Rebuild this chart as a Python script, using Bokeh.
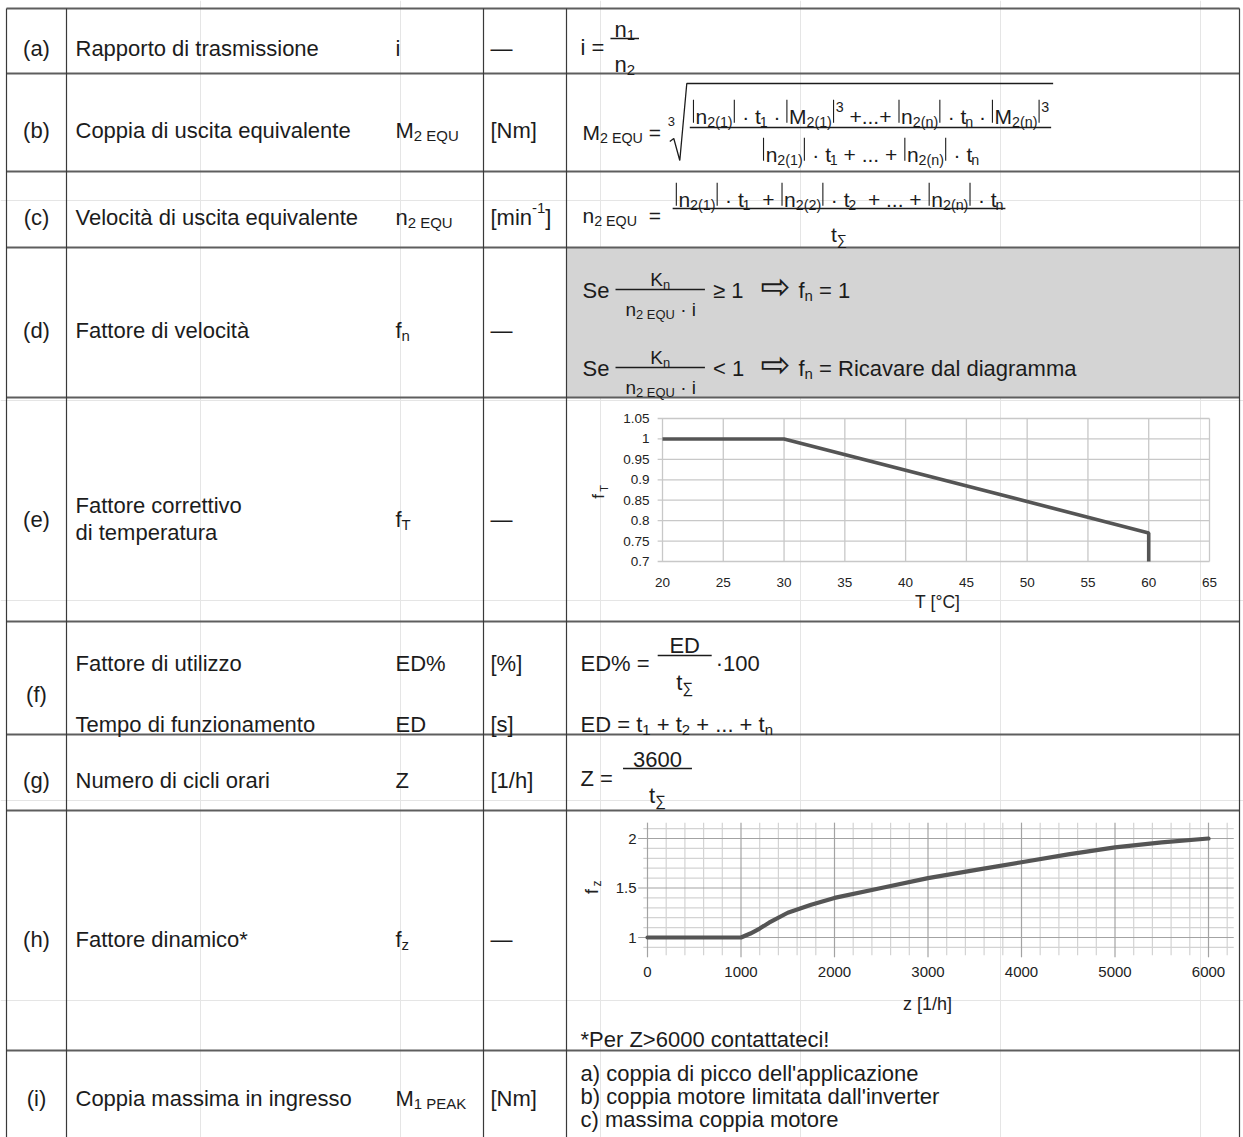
import numpy as np
from bokeh.plotting import figure
from bokeh.models import Range1d
from bokeh.embed import file_html
from bokeh.resources import INLINE
from bokeh.core.properties import value

# ------------------------- chart data -------------------------
temp_C = [20, 30, 60, 60]
f_T = [1.00, 1.00, 0.77, 0.70]
temp_ticks = [20, 25, 30, 35, 40, 45, 50, 55, 60, 65]
fT_ticks = [0.70, 0.75, 0.80, 0.85, 0.90, 0.95, 1.00, 1.05]
fT_labels = ["0.7", "0.75", "0.8", "0.85", "0.9", "0.95", "1", "1.05"]

z_cycles = [0, 1000, 1100, 1200, 1300, 1500, 1750, 2000, 2500, 3000, 3500, 4000, 4500, 5000, 5500, 6000]
f_z = [1.00, 1.00, 1.04, 1.09, 1.15, 1.25, 1.33, 1.40, 1.50, 1.60, 1.68, 1.76, 1.84, 1.91, 1.96, 2.00]
z_ticks = [0, 1000, 2000, 3000, 4000, 5000, 6000]
z_labels = [str(v) for v in z_ticks]
fz_ticks = [1.0, 1.5, 2.0]
fz_labels = ["1", "1.5", "2"]

# ------------------------- figure -------------------------
W_PX, H_PX = 1243, 1137
p = figure(width=W_PX, height=H_PX, x_range=Range1d(0, W_PX), y_range=Range1d(H_PX, 0),
           output_backend="svg", toolbar_location=None, title=None,
           x_axis_location=None, y_axis_location=None, min_border=0,
           outline_line_color=None, background_fill_color="white", border_fill_color="white")


def map_range(d0, px0, d1, px1, lo, hi):
    k = (px1 - px0) / (d1 - d0)
    return Range1d(start=d0 + (lo - px0) / k, end=d0 + (hi - px0) / k)


p.extra_x_ranges = {"te": map_range(20, 662, 65, 1209, 0, W_PX),
                    "zh": map_range(0, 647, 6000, 1208, 0, W_PX)}
p.extra_y_ranges = {"fe": map_range(0.7, 561, 1.05, 418, H_PX, 0),
                    "fh": map_range(1.0, 937, 2.0, 838, H_PX, 0)}

FONT = "Liberation Sans"
INK = "#1c1c1c"
NB = "\u00a0"

AW = {' ': 278, '!': 278, "'": 191, '(': 333, ')': 333, '*': 389, '+': 584, ',': 278, '-': 333,
      '.': 278, '/': 278, ':': 278, '<': 584, '=': 584, '>': 584, '%': 889, '[': 278, ']': 278,
      '°': 400, '·': 278, '—': 1000, '≥': 549, '∑': 713, '|': 260, 'à': 556}
for c in '0123456789':
    AW[c] = 556
AW.update(dict(zip('ABCDEFGHIJKLMNOPQRSTUVWXYZ',
                   [667, 667, 722, 722, 667, 611, 778, 722, 278, 500, 667, 556, 833, 722, 778, 667,
                    778, 722, 667, 611, 722, 667, 944, 667, 667, 611])))
AW.update(dict(zip('abcdefghijklmnopqrstuvwxyz',
                   [556, 556, 500, 556, 556, 278, 556, 556, 222, 222, 500, 222, 833, 556, 556, 556,
                    556, 333, 500, 278, 556, 500, 722, 500, 500, 500])))


def tw(s, size):
    return sum(AW.get(c, 556) for c in s) * size / 1000.0


groups = {}
segs = {}


def T(x, y, s, size, align="left", baseline="alphabetic", angle=0.0, color=INK, font=FONT,
      xr="default", yr="default"):
    key = (round(size, 2), align, baseline, angle, color, font, xr, yr)
    g = groups.setdefault(key, {"x": [], "y": [], "text": []})
    g["x"].append(x)
    g["y"].append(y)
    g["text"].append(s.replace(" ", NB))


def seg(x0, y0, x1, y1, w=1.2, color=INK):
    g = segs.setdefault((w, color), {"x0": [], "y0": [], "x1": [], "y1": []})
    g["x0"].append(x0); g["y0"].append(y0); g["x1"].append(x1); g["y1"].append(y1)


def run(x, base, items, size, draw=True, color=INK):
    for it in items:
        kind = it[0]
        if kind == "t":
            if draw:
                T(x, base, it[1], size, color=color)
            x += tw(it[1], size)
        elif kind == "sub":
            s2 = size * 0.68
            if draw:
                T(x, base + size * 0.24, it[1], s2, color=color)
            x += tw(it[1], s2)
        elif kind == "sup":
            s2 = size * 0.68
            if draw:
                T(x, base - size * 0.45, it[1], s2, color=color)
            x += tw(it[1], s2)
        elif kind == "bar":
            x += size * 0.08
            if draw:
                seg(x, base + size * 0.30, x, base - size * 0.80, 1.1)
            x += size * 0.10
        elif kind == "gap":
            x += it[1]
    return x


def frac(x, bar_y, num, den, size, num_base, den_base, pad=3, min_w=0):
    wn = run(0, 0, num, size, draw=False)
    wd = run(0, 0, den, size, draw=False)
    w = max(wn, wd, min_w) + 2 * pad
    seg(x, bar_y, x + w, bar_y, 1.3)
    run(x + (w - wn) / 2, num_base, num, size)
    run(x + (w - wd) / 2, den_base, den, size)
    return x + w


# ------------------------- table frame -------------------------
X_L, X_ID, X_SYMEND, X_F, X_R = 6, 66, 483, 566, 1239
p.quad(left=X_F, right=X_R, top=247, bottom=397, fill_color="#d4d4d4", line_color=None)

H_LINES = [8, 73, 171, 247, 397, 621, 734, 810, 1050]
V_LINES = [X_L, X_ID, X_SYMEND, X_F, X_R]
p.segment(x0=[X_L] * len(H_LINES), x1=[X_R] * len(H_LINES), y0=H_LINES, y1=H_LINES,
          line_color="#5e5e5e", line_width=1.8)
p.segment(x0=V_LINES, x1=V_LINES, y0=[8] * len(V_LINES), y1=[H_PX] * len(V_LINES),
          line_color="#3a3a3a", line_width=1.2)

# ------------------------- left columns -------------------------
LB = 22
COL_ID = (X_L + X_ID) / 2
COL_DESC = 75
COL_SYM = 395
COL_UNIT = 490


def base_of(center, size=LB):
    return center + 0.36 * size


left_rows = [
    ("(a)", 40.5, [("Rapporto di trasmissione", 40.5)], [("t", "i")], [("t", "—")], 40.5),
    ("(b)", 122, [("Coppia di uscita equivalente", 122)], [("t", "M"), ("sub", "2 EQU")], [("t", "[Nm]")], 122),
    ("(c)", 209, [("Velocità di uscita equivalente", 209)], [("t", "n"), ("sub", "2 EQU")],
     [("t", "[min"), ("sup", "-1"), ("t", "]")], 209),
    ("(d)", 322, [("Fattore di velocità", 322)], [("t", "f"), ("sub", "n")], [("t", "—")], 322),
    ("(e)", 511, [("Fattore correttivo", 497), ("di temperatura", 524)], [("t", "f"), ("sub", "T")],
     [("t", "—")], 511),
    ("(g)", 772, [("Numero di cicli orari", 772)], [("t", "Z")], [("t", "[1/h]")], 772),
    ("(h)", 931, [("Fattore dinamico*", 931)], [("t", "f"), ("sub", "z")], [("t", "—")], 931),
    ("(i)", 1090, [("Coppia massima in ingresso", 1090)], [("t", "M"), ("sub", "1 PEAK")], [("t", "[Nm]")], 1090),
]
for rid, cy, descs, sym, unit, scy in left_rows:
    T(COL_ID, base_of(cy), rid, LB, align="center")
    for d, dy in descs:
        T(COL_DESC, base_of(dy), d, LB)
    run(COL_SYM, base_of(scy), sym, LB)
    run(COL_UNIT, base_of(scy), unit, LB)

# row (f): two sub-lines
T(COL_ID, base_of(686), "(f)", LB, align="center")
T(COL_DESC, base_of(655), "Fattore di utilizzo", LB)
T(COL_SYM, base_of(655), "ED%", LB)
T(COL_UNIT, base_of(655), "[%]", LB)
T(COL_DESC, base_of(716), "Tempo di funzionamento", LB)
T(COL_SYM, base_of(716), "ED", LB)
T(COL_UNIT, base_of(716), "[s]", LB)

# ------------------------- formulas -------------------------
F = 21
FB = 22
# (a)
x = run(580, 47, [("t", "i = ")], FB)
frac(x, 38, [("t", "n"), ("sub", "1")], [("t", "n"), ("sub", "2")], FB, 29, 64, pad=4)

# (b)
x = run(582, 132, [("t", "M"), ("sub", "2 EQU"), ("t", " = ")], F)
T(x + 1, 121, "3", 13)
xr = x + 3
num_b = [("bar",), ("t", "n"), ("sub", "2(1)"), ("bar",), ("t", " · t"), ("sub", "1"), ("t", " · "),
         ("bar",), ("t", "M"), ("sub", "2(1)"), ("bar",), ("sup", "3"), ("t", " +...+ "),
         ("bar",), ("t", "n"), ("sub", "2(n)"), ("bar",), ("t", " · t"), ("sub", "n"), ("t", " · "),
         ("bar",), ("t", "M"), ("sub", "2(n)"), ("bar",), ("sup", "3")]
den_b = [("bar",), ("t", "n"), ("sub", "2(1)"), ("bar",), ("t", " · t"), ("sub", "1"), ("t", " + ... + "),
         ("bar",), ("t", "n"), ("sub", "2(n)"), ("bar",), ("t", " · t"), ("sub", "n")]
xe = frac(xr + 20, 127, num_b, den_b, F, 116, 154, pad=2)
p.line([xr, xr + 4, xr + 10, xr + 17, xe + 2], [141, 138, 160, 83, 83], line_color=INK, line_width=1.3)

# (c)
x = run(582, 215, [("t", "n"), ("sub", "2 EQU"), ("t", "  =  ")], F)
num_c = [("bar",), ("t", "n"), ("sub", "2(1)"), ("bar",), ("t", " · t"), ("sub", "1"), ("t", "  + "),
         ("bar",), ("t", "n"), ("sub", "2(2)"), ("bar",), ("t", " · t"), ("sub", "2"), ("t", "  + ... + "),
         ("bar",), ("t", "n"), ("sub", "2(n)"), ("bar",), ("t", " · t"), ("sub", "n")]
den_c = [("t", "t"), ("sub", "∑")]
frac(x, 208, num_c, den_c, F, 199, 234, pad=2)

# (d)
FD, FK = 22, 19
for bar_y, rel, tail in [(289, " ≥ 1", [("t", "f"), ("sub", "n"), ("t", " = 1")]),
                         (367, " < 1", [("t", "f"), ("sub", "n"), ("t", " = Ricavare dal diagramma")])]:
    x = run(582, bar_y + 1, [("t", "Se ")], FD)
    x = frac(x, bar_y, [("t", "K"), ("sub", "n")], [("t", "n"), ("sub", "2 EQU"), ("t", " · i")],
             FK, bar_y - 10, bar_y + 20, pad=10)
    x = run(x + 2, bar_y + 1, [("t", rel)], FD)
    T(775, bar_y - 3, "⇨", 36, align="center", baseline="middle", font="DejaVu Sans")
    run(798, bar_y + 1, tail, FD)

# (f)
x = run(580, 663, [("t", "ED% = ")], FB)
x = frac(x + 2, 655, [("t", "ED")], [("t", "t"), ("sub", "∑")], FB, 645, 682, pad=4, min_w=46)
run(x + 4, 663, [("t", "·100")], FB)
run(580, 724, [("t", "ED = t"), ("sub", "1"), ("t", " + t"), ("sub", "2"), ("t", " + ... + t"), ("sub", "n")], FB)

# (g)
x = run(580, 778, [("t", "Z = ")], FB)
frac(x + 4, 768, [("t", "3600")], [("t", "t"), ("sub", "∑")], FB, 759, 795, pad=10)

# (h) note and (i) list
T(580, 1039, "*Per Z>6000 contattateci!", 22)
for yb, s in [(1073, "a) coppia di picco dell'applicazione"),
              (1096, "b) coppia motore limitata dall'inverter"),
              (1119, "c) massima coppia motore")]:
    T(580, yb, s, 22)

# ------------------------- chart (e): f_T vs T -------------------------
GRID = "#c8c8c8"
n_t, n_f = len(temp_ticks), len(fT_ticks)
p.segment(x0=temp_ticks, x1=temp_ticks, y0=[0.7] * n_t, y1=[1.05] * n_t,
          x_range_name="te", y_range_name="fe", line_color=GRID, line_width=1.3)
p.segment(x0=[19.6] * n_f, x1=[65] * n_f, y0=fT_ticks, y1=fT_ticks,
          x_range_name="te", y_range_name="fe", line_color=GRID, line_width=1.3)
p.line(temp_C, f_T, x_range_name="te", y_range_name="fe", line_color="#555555", line_width=3.6)
for tv in temp_ticks:
    T(tv, 582, str(tv), 13.5, align="center", xr="te", color="#222222")
for fv, lab in zip(fT_ticks, fT_labels):
    T(649, fv, lab, 13.5, align="right", baseline="middle", yr="fe", color="#222222")
T(937, 601, "T [°C]", 17.5, align="center", color="#222222")
T(598, 496, "f", 17, align="center", baseline="middle", angle=np.pi / 2, color="#222222")
T(603, 488, "T", 11, align="center", baseline="middle", angle=np.pi / 2, color="#222222")

# ------------------------- chart (h): f_z vs z -------------------------
zv = np.arange(0, 6201, 200)
zmaj = [v for v in zv if v % 1000 == 0]
zmin = [v for v in zv if v % 1000 != 0]
fy = np.round(np.arange(0.9, 2.1001, 0.1), 2)
fmaj = [v for v in fy if abs(v * 2 - round(v * 2)) < 1e-6]
fmin = [v for v in fy if abs(v * 2 - round(v * 2)) >= 1e-6]
p.segment(x0=zmin, x1=zmin, y0=0.82, y1=2.16, x_range_name="zh", y_range_name="fh",
          line_color="#d3d3d3", line_width=1.2)
p.segment(x0=[-45] * len(fmin), x1=[6270] * len(fmin), y0=fmin, y1=fmin, x_range_name="zh",
          y_range_name="fh", line_color="#d3d3d3", line_width=1.2)
p.segment(x0=zmaj, x1=zmaj, y0=0.80, y1=2.16, x_range_name="zh", y_range_name="fh",
          line_color="#a3a3a3", line_width=1.2)
p.segment(x0=[-100] * len(fmaj), x1=[6270] * len(fmaj), y0=fmaj, y1=fmaj, x_range_name="zh",
          y_range_name="fh", line_color="#a3a3a3", line_width=1.2)
p.line(z_cycles, f_z, x_range_name="zh", y_range_name="fh", line_color="#555555", line_width=4.2,
       line_cap="round", line_join="round")
for zt, lab in zip(z_ticks, z_labels):
    T(zt, 971, lab, 15, align="center", xr="zh", color="#222222")
for fv, lab in zip(fz_ticks, fz_labels):
    T(636, fv, lab, 15, align="right", baseline="middle", yr="fh", color="#222222")
T(927, 1003, "z [1/h]", 18, align="center", color="#222222")
T(591, 891, "f", 18, align="center", baseline="middle", angle=np.pi / 2, color="#222222")
T(596, 883, "z", 12, align="center", baseline="middle", angle=np.pi / 2, color="#222222")

# ------------------------- render collected primitives -------------------------
for (w, color), g in segs.items():
    p.segment(x0=g["x0"], y0=g["y0"], x1=g["x1"], y1=g["y1"], line_color=color, line_width=w)

for (size, align, baseline, angle, color, font, xr_, yr_), g in groups.items():
    p.text(x=g["x"], y=g["y"], text=g["text"], text_font=value(font), text_font_size=f"{size}px",
           text_align=align, text_baseline=baseline, angle=angle, text_color=color,
           x_range_name=xr_, y_range_name=yr_)

open("out.html", "w").write(file_html(p, INLINE))
